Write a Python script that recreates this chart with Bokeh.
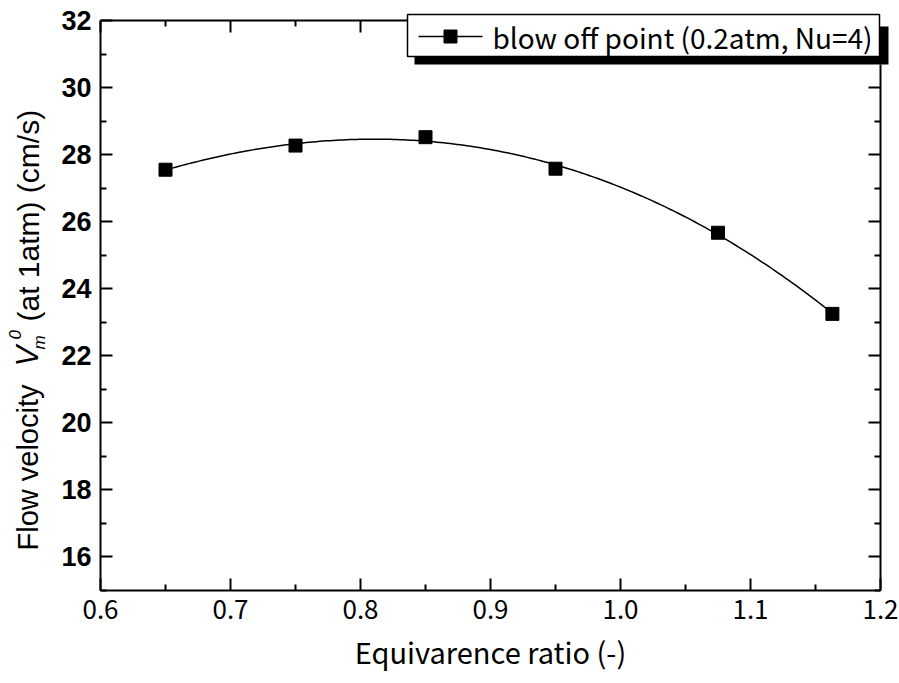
import numpy as np
from bokeh.plotting import figure
from bokeh.models import Range1d, FixedTicker, LinearAxis, Label
from bokeh.core.properties import value
from bokeh.embed import file_html
from bokeh.resources import INLINE

# ---------------- data ----------------
ratio = [0.65, 0.75, 0.85, 0.95, 1.075, 1.163]
velocity = [27.55, 28.27, 28.52, 27.58, 25.67, 23.25]
x_ticks = [0.6, 0.7, 0.8, 0.9, 1.0, 1.1, 1.2]
x_minor = [0.65, 0.75, 0.85, 0.95, 1.05, 1.15]
y_ticks = [16, 18, 20, 22, 24, 26, 28, 30, 32]
y_minor = [15, 17, 19, 21, 23, 25, 27, 29, 31]
x_tick_labels = ["0.6", "0.7", "0.8", "0.9", "1.0", "1.1", "1.2"]
legend_text = "blow off point (0.2atm, Nu=4)"
x_title = "Equivarence ratio (-)"
y_title_parts = ["Flow velocity", "V", "0", "m", "(at 1atm) (cm/s)"]

# ---------------- layout (pixel placement of the frame) ----------------
W, H = 899, 683
FL, FR, FT, FB = 100, 880, 20, 590
X0, X1, Y0, Y1 = 0.6, 1.2, 15.0, 32.0


def px2x(px):
    return X0 + (px - FL) * (X1 - X0) / (FR - FL)


def py2y(py):
    return Y1 - (py - FT) * (Y1 - Y0) / (FB - FT)


# the whole canvas is the frame; axes are pinned at the plot-box edges
p = figure(width=W, height=H, output_backend="svg", toolbar_location=None,
           x_range=Range1d(px2x(0), px2x(W)), y_range=Range1d(py2y(H), py2y(0)),
           min_border_left=0, min_border_right=0, min_border_top=0, min_border_bottom=0)
p.title.visible = False
p.xgrid.visible = False
p.ygrid.visible = False
p.outline_line_color = None
p.background_fill_color = "white"
p.border_fill_color = "white"

xt = FixedTicker(ticks=x_ticks, minor_ticks=x_minor)
yt = FixedTicker(ticks=y_ticks, minor_ticks=y_minor)


def style_axis(ax):
    ax.axis_line_color = "black"
    ax.axis_line_width = 2
    ax.major_tick_in = 12
    ax.major_tick_out = 0
    ax.minor_tick_in = 6
    ax.minor_tick_out = 0
    ax.major_tick_line_color = "black"
    ax.major_tick_line_width = 2
    ax.minor_tick_line_color = "black"
    ax.minor_tick_line_width = 2


xa = p.xaxis[0]
xa.ticker = xt
xa.fixed_location = Y0
xa.bounds = (X0, X1)
xa.major_label_overrides = {t: s for t, s in zip(x_ticks, x_tick_labels)}
style_axis(xa)
xa.major_label_text_font = "Noto Sans CJK JP"
xa.major_label_text_font_size = "26px"
xa.major_label_text_color = "black"
xa.major_label_standoff = 9
xa.axis_label = x_title
xa.axis_label_text_font = "Noto Sans CJK JP"
xa.axis_label_text_font_size = "29px"
xa.axis_label_text_font_style = "normal"
xa.axis_label_text_color = "black"
xa.axis_label_standoff = 8

ya = p.yaxis[0]
ya.ticker = yt
ya.fixed_location = X0
ya.bounds = (Y0, Y1)
style_axis(ya)
ya.major_label_text_font = "Liberation Sans"
ya.major_label_text_font_style = "bold"
ya.major_label_text_font_size = "27px"
ya.major_label_text_color = "black"
ya.major_label_standoff = 9

# top axis stops where the legend box starts; right axis stops under the legend shadow
top_end = px2x(407)
right_end = py2y(64)
top = LinearAxis(ticker=FixedTicker(ticks=[t for t in x_ticks if t < top_end],
                                    minor_ticks=[t for t in x_minor if t < top_end]),
                 fixed_location=Y1, bounds=(X0, top_end))
style_axis(top)
top.major_label_text_color = None
p.add_layout(top, "above")

right = LinearAxis(ticker=FixedTicker(ticks=[t for t in y_ticks if t < right_end],
                                      minor_ticks=[t for t in y_minor if t < right_end]),
                   fixed_location=X1, bounds=(Y0, right_end))
style_axis(right)
right.major_label_text_color = None
p.add_layout(right, "right")

# ---------------- fitted curve + points ----------------
coef = np.polyfit(ratio, velocity, 3)
xs = np.linspace(min(ratio), max(ratio), 200)
p.line(xs, np.polyval(coef, xs), line_color="black", line_width=1.5)
p.scatter(ratio, velocity, marker="square", size=13, color="black")

# ---------------- legend (box with drop shadow) ----------------
p.quad(left=[px2x(414)], right=[px2x(888)], top=[py2y(26)], bottom=[py2y(64)],
       fill_color="black", line_color=None)
p.quad(left=[px2x(407)], right=[px2x(879)], top=[py2y(14)], bottom=[py2y(56)],
       fill_color="white", line_color="black", line_width=1.5)
ly = py2y(36)
p.line([px2x(418), px2x(482)], [ly, ly], line_color="black", line_width=1.5)
p.scatter([px2x(450)], [ly], marker="square", size=13, color="black")
p.text(x=[px2x(492)], y=[ly], text=[legend_text], text_font=value("Noto Sans CJK JP"),
       text_font_size="28px", text_baseline="middle", text_align="left", text_color="black")

# ---------------- y title (rotated, pieces for sub/superscripts) ----------------
ang = np.pi / 2


def ylab(txt, baseline_px, py, size, style="normal"):
    # text_baseline "middle": centre of the line box sits ~0.35 em above the baseline
    px = baseline_px - 0.35 * size
    p.add_layout(Label(x=px2x(px), y=py2y(py), text=txt, angle=ang,
                       text_font="Liberation Sans", text_font_size=f"{size}px",
                       text_font_style=style, text_align="left",
                       text_baseline="middle", text_color="black"))


ylab(y_title_parts[0], 38, 550, 29)
ylab(y_title_parts[1], 38, 366, 31, "italic")
ylab(y_title_parts[2], 20, 339, 17, "italic")
ylab(y_title_parts[3], 45, 349, 17, "italic")
ylab(y_title_parts[4], 38, 321, 30)

open("out.html", "w").write(file_html(p, INLINE))
